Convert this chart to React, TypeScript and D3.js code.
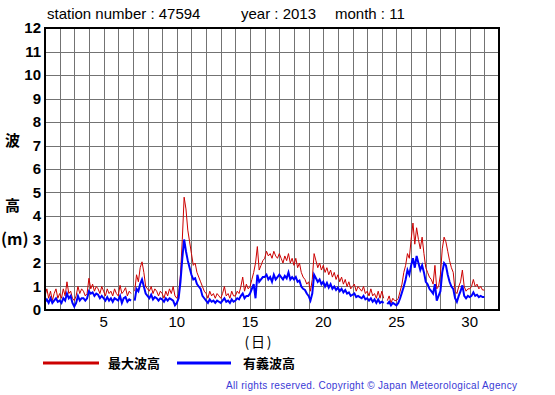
import React from 'react';
import * as d3 from 'd3';

// 3-hourly readings, Nov 1 00h .. Nov 30 21h, plus Dec 1 00h (null = missing)
const maxWave: (number | null)[] = [
  0.6, 0.9, 0.5, 0.8, 0.4, 0.7, 0.9, 0.5,
  0.7, 0.5, 0.9, 0.6, 1.2, 0.7, 0.8, 0.5,
  0.4, 0.6, 1.0, 0.7, 0.9, 0.8, 0.6, 0.7,
  1.35, 0.9, 1.1, 0.8, 1.0, 0.9, 0.7, 1.0,
  0.8, 0.6, 0.9, 0.7, 0.8, 0.6, 0.9, 0.7,
  0.6, 1.05, 0.7, 0.8, 0.95, 0.6, 0.8, 0.7,
  null, 0.8, 1.5, 1.2, 1.8, 2.05, 1.6, 1.0,
  0.9, 0.8, 1.0, 0.7, 0.9, 0.8, 0.6, 0.8,
  0.7, 0.5, 0.8, 0.6, 0.9, 0.7, 1.0, 0.6,
  0.5, 0.7, 1.5, 3.0, 4.8, 4.3, 3.4, 2.9,
  2.4, 1.9, 2.0, 1.6, 1.4, 1.2, 1.0, 0.8,
  0.7, 0.5, 0.8, 0.6, 0.7, 0.5, 0.7, 0.6,
  0.5, 0.7, 1.0, 0.6, 0.7, 0.5, 0.8, 0.6,
  0.6, 0.8, 0.7, 1.0, 1.4, 0.8, 1.1, 0.9,
  1.0, 1.3, 1.6, 2.0, 2.7, 1.7, 1.9, 2.1,
  2.2, 2.5, 2.3, 2.4, 2.2, 2.5, 2.3, 2.2,
  2.4, 2.2, 2.0, 2.3, 2.1, 2.4, 2.0, 2.2,
  1.9, 2.2, 1.8, 2.0, 1.6, 1.4, 1.3, 1.1,
  1.2, 0.8, 1.3, 2.4, 2.1, 1.8, 2.0, 1.7,
  1.9, 1.6, 1.8, 1.5, 1.7, 1.4, 1.6, 1.3,
  1.5, 1.2, 1.4, 1.1, 1.3, 1.0, 1.2, 0.9,
  1.0, 1.1, 0.8, 1.0, 0.9, 0.8, 1.0, 0.7,
  0.8, 0.6, 0.9, 0.6, 0.7, 0.5, 0.8, 0.5,
  0.8, 0.5, null, 0.4, 0.6, 0.3, 0.5, 0.4,
  0.4, 0.5, 0.8, 1.1, 1.6, 1.9, 2.4, 2.2,
  3.0, 3.7, 2.8, 3.5, 3.0, 2.6, 3.1, 2.4,
  1.8, 1.6, 1.4, 1.3, 1.1, 1.9, 0.9, 1.0,
  1.5, 2.6, 3.1, 2.9, 2.5, 2.1, 1.8, 1.6,
  0.8, 0.7, 1.0, 1.2, 1.7, 1.0, 0.8, 0.9,
  0.9, 1.0, 1.3, 1.0, 1.1, 0.9, 1.0, 0.85,
  0.85,
];

const sigWave: (number | null)[] = [
  0.35, 0.45, 0.3, 0.5, 0.3, 0.4, 0.5, 0.35,
  0.4, 0.3, 0.5, 0.4, 0.7, 0.5, 0.6, 0.3,
  0.15, 0.3, 0.6, 0.4, 0.5, 0.5, 0.4, 0.5,
  0.8, 0.7, 0.75, 0.6, 0.7, 0.65, 0.5, 0.6,
  0.5, 0.4, 0.55, 0.4, 0.5, 0.35, 0.5, 0.45,
  0.4, 0.6, 0.3, 0.5, 0.55, 0.35, 0.45, 0.4,
  null, 0.4, 0.9, 0.8, 1.1, 1.3, 1.0, 0.7,
  0.6, 0.5, 0.65, 0.45, 0.55, 0.5, 0.4, 0.5,
  0.45, 0.35, 0.5, 0.4, 0.5, 0.45, 0.4, 0.2,
  0.3, 0.5, 1.2, 2.2, 3.0, 2.5, 2.1, 1.8,
  1.5, 1.3, 1.35, 1.1, 1.0, 0.9, 0.6, 0.5,
  0.4, 0.3, 0.45, 0.35, 0.4, 0.3, 0.4, 0.35,
  0.3, 0.4, 0.5, 0.35, 0.4, 0.3, 0.45, 0.35,
  0.4, 0.5, 0.45, 0.6, 0.7, 0.5, 0.6, 0.6,
  0.7, 0.9, 1.1, 0.5, 1.5, 1.2, 1.3, 1.4,
  1.4, 1.5, 1.3, 1.4, 1.2, 1.5, 1.3, 1.4,
  1.5, 1.4, 1.3, 1.45, 1.35, 1.6, 1.3, 1.4,
  1.3, 1.4, 1.2, 1.25, 1.0, 0.9, 0.85, 0.7,
  0.6, 0.4, 0.7, 1.5, 1.35, 1.2, 1.3, 1.1,
  1.2, 1.0, 1.15, 0.95, 1.1, 0.9, 1.0, 0.85,
  0.95, 0.8, 0.9, 0.75, 0.85, 0.7, 0.75, 0.6,
  0.65, 0.7, 0.55, 0.6, 0.55, 0.5, 0.6, 0.45,
  0.5, 0.4, 0.5, 0.35, 0.45, 0.3, 0.45, 0.3,
  0.35, 0.3, null, 0.25, 0.35, 0.2, 0.3, 0.25,
  0.2, 0.3, 0.5, 0.75, 1.0, 1.3, 1.7, 1.5,
  1.9, 2.2, 1.8, 2.3, 2.0, 1.7, 1.9, 1.6,
  1.2, 1.1, 0.9, 0.8, 0.7, 1.1, 0.4, 0.6,
  0.8, 1.6, 2.0, 1.9, 1.5, 1.2, 1.0, 0.9,
  0.5, 0.35, 0.6, 0.8, 1.05, 0.6, 0.5, 0.6,
  0.55, 0.6, 0.75, 0.6, 0.65, 0.55, 0.6, 0.55,
  0.55,
];

const yTicks = [0, 1, 2, 3, 4, 5, 6, 7, 8, 9, 10, 11, 12];
const xTickLabels = [5, 10, 15, 20, 25, 30];
const gridDays = d3.range(1, 33);

const latin = '"Liberation Sans", Arial, sans-serif';
const cjk = '"Noto Sans CJK JP", sans-serif';

export default function App() {
  const x = d3.scaleLinear().domain([1, 32]).range([45, 499]);
  const y = d3.scaleLinear().domain([0, 12]).range([310, 28]);

  const toPts = (arr: (number | null)[]) => arr.map((v, i) => ({ t: 1 + i / 8, v }));
  const line = d3.line<{ t: number; v: number | null }>()
    .defined(d => d.v !== null)
    .x(d => x(d.t))
    .y(d => y(d.v as number));

  return (
    <svg width={555} height={395} style={{ position: 'absolute', left: 0, top: 0, background: '#fff' }}>
      <g fontFamily={latin} fontSize={15} fill="#000">
        <text x={47} y={19}>station number : 47594</text>
        <text x={241} y={19}>year : 2013</text>
        <text x={335} y={19}>month : 11</text>
      </g>

      {/* grid */}
      <g stroke="#737373" strokeWidth={1}>
        {yTicks.map(t => (
          <line key={'h' + t} x1={x(1)} x2={x(32)} y1={Math.round(y(t)) + 0.5} y2={Math.round(y(t)) + 0.5} />
        ))}
        {gridDays.map(d => (
          <line key={'v' + d} x1={Math.round(x(d)) + 0.5} x2={Math.round(x(d)) + 0.5} y1={y(12)} y2={y(0)} />
        ))}
      </g>

      <path d={line(toPts(maxWave)) || ''} fill="none" stroke="#cc0000" strokeWidth={1} />
      <path d={line(toPts(sigWave)) || ''} fill="none" stroke="#0000ff" strokeWidth={2} />

      <rect x={x(1)} y={y(12)} width={x(32) - x(1)} height={y(0) - y(12)} fill="none" stroke="#000" strokeWidth={2} />

      <g fontFamily={latin} fontSize={15} fontWeight="bold" textAnchor="end">
        {yTicks.map(t => (
          <text key={t} x={41} y={y(t) + 5}>{t}</text>
        ))}
      </g>

      <g fontFamily={latin} fontSize={15} textAnchor="middle">
        {xTickLabels.map(d => (
          <text key={d} x={x(d)} y={327}>{d}</text>
        ))}
      </g>
      <text x={258} y={347} fontFamily={cjk} fontSize={14} textAnchor="middle" textLength={27} lengthAdjust="spacing">(日)</text>

      <g fontFamily={cjk} fontSize={15} fontWeight="bold">
        <text x={5} y={146}>波</text>
        <text x={5} y={211}>高</text>
        <text x={1} y={245} fontSize={16}>(m)</text>
      </g>

      <line x1={43} x2={99} y1={363} y2={363} stroke="#cc0000" strokeWidth={3} />
      <text x={108} y={368} fontFamily={cjk} fontSize={13} fontWeight="bold">最大波高</text>
      <line x1={177} x2={231} y1={363} y2={363} stroke="#0000ff" strokeWidth={3} />
      <text x={243} y={368} fontFamily={cjk} fontSize={13} fontWeight="bold">有義波高</text>

      <text x={226} y={389} fontFamily={latin} fontSize={10} fill="#3a3ad6" textLength={291} lengthAdjust="spacing">
        All rights reserved. Copyright © Japan Meteorological Agency
      </text>
    </svg>
  );
}
